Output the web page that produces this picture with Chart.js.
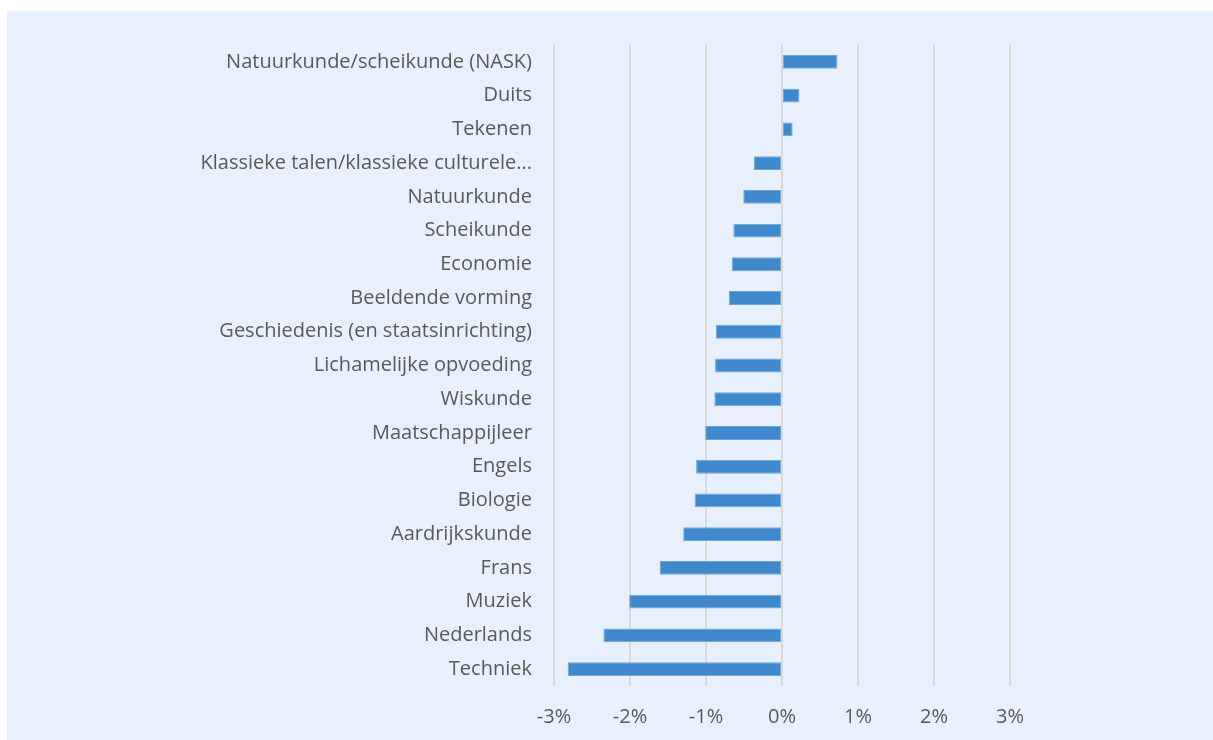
<!DOCTYPE html>
<html>
<head>
<meta charset="utf-8">
<script src="https://cdn.jsdelivr.net/npm/chart.js@4.4.1/dist/chart.umd.min.js"></script>
<style>
  html, body { margin: 0; padding: 0; background: #ffffff; }
  #panel {
    position: absolute; left: 7px; top: 11px;
    width: 1206px; height: 729px;
    background: #E9F0FD;
  }
  #chart { display: block; }
</style>
</head>
<body>
<div id="panel"><canvas id="chart" width="1206" height="729"></canvas></div>
<script>
// Vakken (top to bottom)
const subjects = [
  'Natuurkunde/scheikunde (NASK)',
  'Duits',
  'Tekenen',
  'Klassieke talen/klassieke culturele...',
  'Natuurkunde',
  'Scheikunde',
  'Economie',
  'Beeldende vorming',
  'Geschiedenis (en staatsinrichting)',
  'Lichamelijke opvoeding',
  'Wiskunde',
  'Maatschappijleer',
  'Engels',
  'Biologie',
  'Aardrijkskunde',
  'Frans',
  'Muziek',
  'Nederlands',
  'Techniek'
];

// Verandering in procenten
const changes = [
  0.73, 0.23, 0.14, -0.37, -0.51, -0.64, -0.66, -0.70, -0.87, -0.88,
  -0.89, -1.01, -1.13, -1.15, -1.30, -1.61, -2.01, -2.35, -2.82
];

// Ticks on the value axis
const tickValues = [-3, -2, -1, 0, 1, 2, 3];

const textColor = '#595959';
const gridColor = '#D9D9D9';
const fontFamily = '"Open Sans", "Noto Sans", sans-serif';

new Chart(document.getElementById('chart'), {
  type: 'bar',
  data: {
    labels: subjects,
    datasets: [{
      data: changes,
      backgroundColor: '#3F88CC',
      borderColor: '#6FA5DA',
      borderWidth: 1,
      borderSkipped: false,
      barPercentage: 0.41,
      categoryPercentage: 1.0
    }]
  },
  options: {
    indexAxis: 'y',
    responsive: false,
    animation: false,
    layout: { padding: { left: 0, right: 203, top: 29, bottom: 0 } },
    plugins: {
      legend: { display: false },
      tooltip: { enabled: false }
    },
    scales: {
      x: {
        min: tickValues[0],
        max: tickValues[tickValues.length - 1],
        afterBuildTicks: (scale) => { scale.ticks = tickValues.map(v => ({ value: v })); },
        afterFit: (scale) => { scale.height = 54; },
        grid: { color: gridColor, lineWidth: 2, drawTicks: false },
        border: { display: false },
        ticks: {
          color: textColor,
          font: { family: fontFamily, size: 20 },
          padding: 19,
          callback: (v) => v + '%'
        }
      },
      y: {
        afterFit: (scale) => { scale.width = 547; },
        grid: { display: false, drawTicks: false },
        border: { display: false },
        ticks: {
          color: textColor,
          font: { family: fontFamily, size: 20 },
          padding: 22,
          autoSkip: false
        }
      }
    }
  }
});
</script>
</body>
</html>
